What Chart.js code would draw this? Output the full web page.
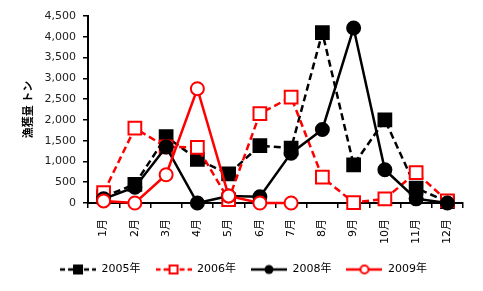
<!DOCTYPE html>
<html><head><meta charset="utf-8">
<script src="https://cdn.jsdelivr.net/npm/chart.js@4.4.0/dist/chart.umd.min.js"></script>
<style>html,body{margin:0;padding:0;background:#fff}#wrap{width:483px;height:291px}</style>
</head><body><div id="wrap"><canvas id="c" width="483" height="291"></canvas></div>
<script>
const months = ['1月','2月','3月','4月','5月','6月','7月','8月','9月','10月','11月','12月'];
const seriesNames = ['2005年','2006年','2008年','2009年'];
const s2005 = [150, 450, 1600, 1050, 700, 1380, 1320, 4100, 920, 2000, 360, 30];
const s2006 = [250, 1800, 1350, 1340, 80, 2150, 2550, 620, 10, 100, 730, 50];
const s2008 = [100, 380, 1350, 0, 170, 150, 1200, 1770, 4210, 800, 100, 0];
const s2009 = [50, 0, 680, 2750, 170, 0, 0, null, null, null, null, null];
const yTicks = [0, 500, 1000, 1500, 2000, 2500, 3000, 3500, 4000, 4500];

const RED = '#FF0000', BLACK = '#000000';
function legendImg(color, dashed, shape, filled){
  const cv = document.createElement('canvas'); cv.width = 36; cv.height = 14;
  const g = cv.getContext('2d');
  g.strokeStyle = color; g.lineWidth = 2.5;
  if (dashed) g.setLineDash([5,3]);
  g.beginPath(); g.moveTo(0,7); g.lineTo(36,7); g.stroke();
  g.setLineDash([]);
  g.fillStyle = filled ? color : '#fff'; g.lineWidth = 2;
  if (shape === 'rect'){
    if (filled) g.fillRect(13,2,10,10); else { g.fillRect(14,3,8,8); g.strokeRect(14,3,8,8); }
  } else {
    g.beginPath(); g.arc(18,7, filled?4.5:4, 0, Math.PI*2); g.fill(); if(!filled) g.stroke();
  }
  return cv;
}
const imgs = [legendImg(BLACK,true,'rect',true), legendImg(RED,true,'rect',false), legendImg(BLACK,false,'circle',true), legendImg(RED,false,'circle',false)];

function ds(label, data, color, dashed, style, filled, order){
  return {label, data, borderColor: color, backgroundColor: filled ? color : '#fff',
    borderWidth: 2.5, borderDash: dashed ? [7,4] : [], pointStyle: style,
    pointRadius: style==='rect' ? 9 : 6.5, pointBorderWidth: 2, pointBorderColor: color,
    pointBackgroundColor: filled ? color : '#fff', tension: 0, clip: false, order, spanGaps: false};
}

new Chart(document.getElementById('c'), {
  type: 'line',
  data: { labels: months, datasets: [
    ds(seriesNames[0], s2005, BLACK, true, 'rect', true, 4),
    ds(seriesNames[1], s2006, RED, true, 'rect', false, 3),
    ds(seriesNames[2], s2008, BLACK, false, 'circle', true, 2),
    ds(seriesNames[3], s2009, RED, false, 'circle', false, 1)
  ]},
  options: {
    responsive: false, animation: false, devicePixelRatio: 1,
    layout: { padding: { top: 16, right: 20, left: 24, bottom: 6 } },
    plugins: {
      tooltip: { enabled: false },
      legend: { position: 'bottom',
        labels: { usePointStyle: true, pointStyleWidth: 36, padding: 15,
          font: { family: 'DejaVu Sans, Noto Sans CJK JP', size: 11 }, color: '#000',
          sort: (a,b) => a.datasetIndex - b.datasetIndex,
          generateLabels: (chart) => chart.data.datasets.map((d,i) => ({
            text: d.label, pointStyle: imgs[i], datasetIndex: i, hidden: false,
            lineWidth: 0, fillStyle: 'transparent', strokeStyle: 'transparent', fontColor: '#000'
          }))
        } }
    },
    scales: {
      x: { offset: true,
        grid: { display: true, drawOnChartArea: false, drawTicks: true, tickLength: 5, color: '#000', lineWidth: 1.5, offset: true },
        border: { display: true, color: '#000', width: 2 },
        ticks: { maxRotation: 90, minRotation: 90, padding: 11, color: '#000',
          font: { family: 'DejaVu Sans, Noto Sans CJK JP', size: 11 } },
        afterFit: (s) => { s.height = 46; }
      },
      y: { min: 0, max: 4500,
        afterBuildTicks: (s) => { s.ticks = yTicks.map(v => ({ value: v })); },
        grid: { display: true, drawOnChartArea: false, drawTicks: true, tickLength: 5, color: '#000', lineWidth: 1.5 },
        border: { display: true, color: '#000', width: 2 },
        ticks: { padding: 7, color: '#222', font: { family: 'DejaVu Sans', size: 11 },
          callback: (v) => Number(v).toLocaleString('en-US') },
        title: { display: true, text: '漁獲量 トン', color: '#000',
          font: { family: 'Noto Sans CJK JP', size: 11, weight: 'bold' }, padding: { top: -3, bottom: 0 } },
        afterFit: (s) => { s.width = 64; }
      }
    }
  }
});
</script></body></html>
